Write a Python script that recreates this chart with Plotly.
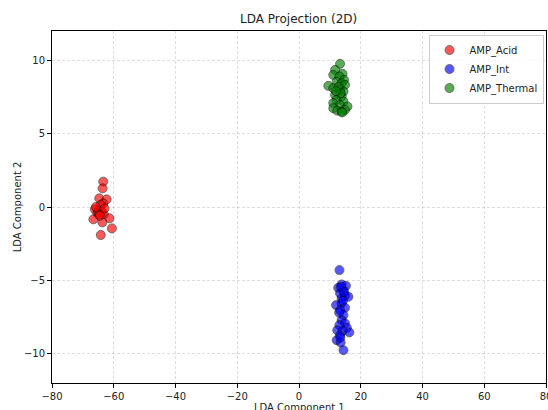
import plotly.graph_objects as go

acid_x = [-63.4, -63.6, -64.7, -62.3, -63.4, -64.2, -66.1, -65.0, -63.9, -65.3, -63.2, -66.6, -61.4, -63.7, -60.6, -64.2, -64.7, -65.8, -64.5, -63.0]
acid_y = [1.73, 1.27, 0.59, 0.52, 0.25, 0.14, -0.16, -0.25, -0.32, -0.43, -0.50, -0.84, -0.77, -1.05, -1.46, -1.91, -0.50, 0.00, -0.60, -0.10]

int_x = [13.1, 13.8, 15.2, 12.7, 14.4, 13.3, 14.9, 13.8, 16.0, 12.0, 13.8, 14.9, 13.3, 14.4, 13.8, 14.9, 13.1, 15.5, 12.4, 14.1, 16.3, 13.3, 12.2, 13.5, 14.4, 13.6, 14.2, 13.0, 14.6, 13.4]
int_y = [-4.30, -5.28, -5.37, -5.51, -5.67, -5.89, -6.05, -6.23, -6.12, -6.69, -6.57, -6.87, -7.03, -7.37, -7.71, -7.94, -8.05, -8.24, -8.40, -8.46, -8.55, -8.74, -9.08, -9.24, -9.76, -5.45, -6.40, -7.20, -5.80, -8.90]

thermal_x = [13.3, 11.7, 14.1, 11.1, 13.1, 14.6, 12.2, 13.8, 9.5, 14.9, 11.1, 13.3, 14.4, 11.7, 13.8, 12.2, 14.4, 11.1, 13.3, 15.7, 11.1, 12.4, 14.9, 13.8, 12.8, 13.5, 12.0, 14.0]
thermal_y = [9.76, 9.35, 9.08, 9.01, 8.90, 8.67, 8.55, 8.44, 8.26, 8.33, 8.10, 7.99, 7.87, 7.64, 7.53, 7.30, 7.19, 7.08, 6.96, 6.85, 6.74, 6.57, 6.62, 6.51, 8.20, 7.75, 7.90, 6.45]

series = [
    ("AMP_Acid", acid_x, acid_y, "red"),
    ("AMP_Int", int_x, int_y, "blue"),
    ("AMP_Thermal", thermal_x, thermal_y, "green"),
]

fig = go.Figure()
for name, xs, ys, col in series:
    fig.add_trace(go.Scatter(
        x=xs, y=ys, mode="markers", name=name,
        marker=dict(size=9, color=col, opacity=0.65,
                    line=dict(color="black", width=0.8)),
    ))

axis_common = dict(
    showline=True, linecolor="black", linewidth=1, mirror=True,
    ticks="outside", ticklen=4, tickcolor="black",
    showgrid=True, gridcolor="rgba(0,0,0,0.13)", griddash="3px,2px", gridwidth=1,
    zeroline=False, tickfont=dict(size=10, color="#222"),
    ticklabeloverflow="allow",
)

fig.update_layout(
    width=548, height=410,
    margin=dict(l=52, r=2, t=31, b=27),
    paper_bgcolor="white", plot_bgcolor="white",
    font=dict(family="DejaVu Sans", size=10, color="#222"),
    title=dict(text="LDA Projection (2D)", x=0.545, xanchor="center",
               y=0.955, yanchor="middle", font=dict(size=12, color="#222")),
    xaxis=dict(range=[-80, 80], dtick=20, automargin=False, **axis_common),
    yaxis=dict(range=[-12, 12], dtick=5, automargin=True,
               title=dict(text="LDA Component 2", standoff=0, font=dict(size=10)),
               **axis_common),
    legend=dict(x=0.995, xanchor="right", y=0.99, yanchor="top",
                bgcolor="rgba(255,255,255,0.8)", bordercolor="#ccc", borderwidth=1,
                font=dict(size=10), itemsizing="trace", itemwidth=30,
                tracegroupgap=0),
    showlegend=True,
    annotations=[dict(text="LDA Component 1", xref="paper", yref="paper",
                      x=0.5, y=0, xanchor="center", yanchor="top", yshift=-17,
                      showarrow=False, font=dict(size=10, color="#222"))],
)

fig.write_html("out.html", config={"displayModeBar": False})

with open("out.html", "r", encoding="utf-8") as f:
    html = f.read()
html = html.replace("<head>", "<head><style>html,body{margin:0;padding:0;overflow:hidden;}</style>", 1)
with open("out.html", "w", encoding="utf-8") as f:
    f.write(html)
